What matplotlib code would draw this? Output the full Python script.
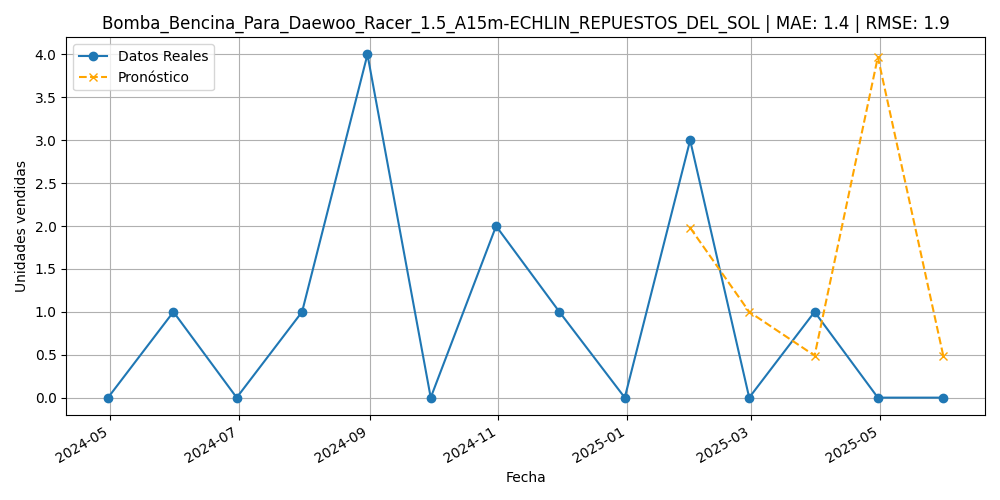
import pandas as pd
import matplotlib
matplotlib.use("Agg")
import matplotlib.pyplot as plt

# monthly data (month-end dates)
fechas_reales = pd.date_range("2024-04-30", periods=14, freq="ME")
ventas_reales = [0, 1, 0, 1, 4, 0, 2, 1, 0, 3, 0, 1, 0, 0]

fechas_pronostico = pd.date_range("2025-01-31", periods=5, freq="ME")
ventas_pronostico = [1.98, 1.0, 0.49, 3.97, 0.49]

producto = "Bomba_Bencina_Para_Daewoo_Racer_1.5_A15m-ECHLIN_REPUESTOS_DEL_SOL"
mae = 1.4
rmse = 1.9

fig, ax = plt.subplots(figsize=(10, 5), dpi=100)
ax.plot(fechas_reales, ventas_reales, marker="o", label="Datos Reales")
ax.plot(fechas_pronostico, ventas_pronostico, marker="x", linestyle="--",
        color="orange", label="Pronóstico")
ax.set_title(f"{producto} | MAE: {mae} | RMSE: {rmse}")
ax.set_xlabel("Fecha")
ax.set_ylabel("Unidades vendidas")
ax.legend(loc="upper left")
ax.grid(True)
fig.autofmt_xdate()
plt.tight_layout()
plt.savefig("out.png")
